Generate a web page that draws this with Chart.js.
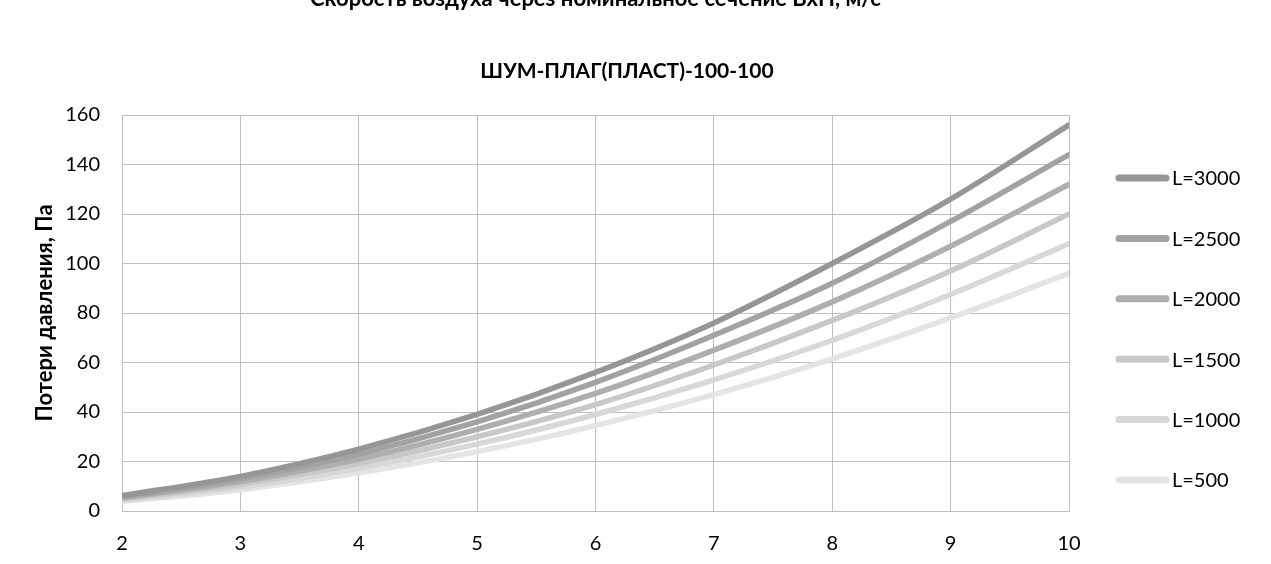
<!DOCTYPE html>
<html><head><meta charset="utf-8">
<script src="https://cdn.jsdelivr.net/npm/chart.js@4"></script>
<style>html,body{margin:0;padding:0;background:#fff;}#wrap{width:1271px;height:564px;position:relative;}</style>
</head><body><div id="wrap"><canvas id="c"></canvas></div>
<script>
const velocities = [2, 3, 4, 5, 6, 7, 8, 9, 10];
const seriesLabels = ['L=3000', 'L=2500', 'L=2000', 'L=1500', 'L=1000', 'L=500'];
const L3000 = [6.2, 14, 25, 39, 56, 76, 100, 126, 156];
const L2500 = [5.8, 13, 23, 36, 52, 71, 92, 117, 144];
const L2000 = [5.3, 11.9, 21, 33, 47.5, 65, 84.5, 107, 132];
const L1500 = [4.8, 10.8, 19.2, 30, 43, 59, 77, 97, 120];
const L1000 = [4.3, 9.7, 17.3, 27, 39, 53, 69, 87.5, 108];
const L500 = [3.8, 8.6, 15.4, 24, 34.5, 47, 61.5, 78, 96];
const yTicks = [0, 20, 40, 60, 80, 100, 120, 140, 160];
const colors = ['#969696', '#a2a2a2', '#aeaeae', '#c8c8c8', '#d8d8d8', '#e4e4e4'];
const allSeries = [L3000, L2500, L2000, L1500, L1000, L500];
const chartTitle = 'ШУМ-ПЛАГ(ПЛАСТ)-100-100';
const topTitle = 'Скорость воздуха через номинальное сечение ВхН, м/с';

const FONT = 'Lato, "Open Sans", sans-serif';

const datasets = allSeries.map((s, i) => ({
  label: seriesLabels[i],
  data: s.map((v, j) => ({x: velocities[j], y: v})),
  borderColor: colors[i],
  backgroundColor: colors[i],
  borderWidth: 5.5,
  pointRadius: 0,
  tension: 0.4,
  cubicInterpolationMode: 'monotone',
  borderCapStyle: 'round',
  fill: false
}));

const extraText = {
  id: 'extraText',
  afterDraw(chart) {
    const ctx = chart.ctx;
    const ca = chart.chartArea;
    ctx.save();
    ctx.fillStyle = '#000';
    ctx.font = 'bold 22px ' + FONT;
    ctx.textAlign = 'center';
    ctx.textBaseline = 'alphabetic';
    ctx.fillText(topTitle, (ca.left + ca.right) / 2, 6);
    ctx.font = 'bold 21px ' + FONT;
    ctx.fillText(chartTitle, 627, 78);
    // legend
    const ds = chart.data.datasets;
    ctx.font = '20px ' + FONT;
    ctx.textAlign = 'left';
    ctx.textBaseline = 'middle';
    ds.forEach((d, i) => {
      const y = 178 + i * 60.4;
      ctx.strokeStyle = d.borderColor;
      ctx.lineWidth = 7;
      ctx.lineCap = 'round';
      ctx.beginPath();
      ctx.moveTo(1119, y);
      ctx.lineTo(1166, y);
      ctx.stroke();
      ctx.fillStyle = '#000';
      ctx.fillText(d.label, 1172, y + 1);
    });
    ctx.restore();
  }
};

new Chart(document.getElementById('c'), {
  type: 'line',
  data: { datasets },
  plugins: [extraText],
  options: {
    responsive: true,
    maintainAspectRatio: false,
    animation: false,
    layout: { padding: { top: 115, right: 202, bottom: 0, left: 0 } },
    plugins: {
      legend: { display: false },
      tooltip: { enabled: false },
      title: { display: false }
    },
    scales: {
      x: {
        type: 'linear',
        min: 2, max: 10,
        afterBuildTicks: (s) => { s.ticks = velocities.map(v => ({value: v})); },
        grid: { color: '#bfbfbf', lineWidth: 1, drawTicks: false },
        border: { color: '#bfbfbf' },
        ticks: { color: '#000', font: { family: FONT, size: 20 }, padding: 21, maxRotation: 0 },
        afterFit: (s) => { s.height = 53; }
      },
      y: {
        min: 0, max: 160,
        afterBuildTicks: (s) => { s.ticks = yTicks.map(v => ({value: v})); },
        grid: { color: '#bfbfbf', lineWidth: 1, drawTicks: false },
        border: { color: '#bfbfbf' },
        ticks: { color: '#000', font: { family: FONT, size: 20 }, padding: 22 },
        title: {
          display: true,
          text: 'Потери давления, Па',
          color: '#000',
          font: { family: FONT, size: 22, weight: 'bold' },
          padding: { top: 32, bottom: 0 }
        },
        afterFit: (s) => { s.width = 122; }
      }
    }
  }
});
</script>
</body></html>
